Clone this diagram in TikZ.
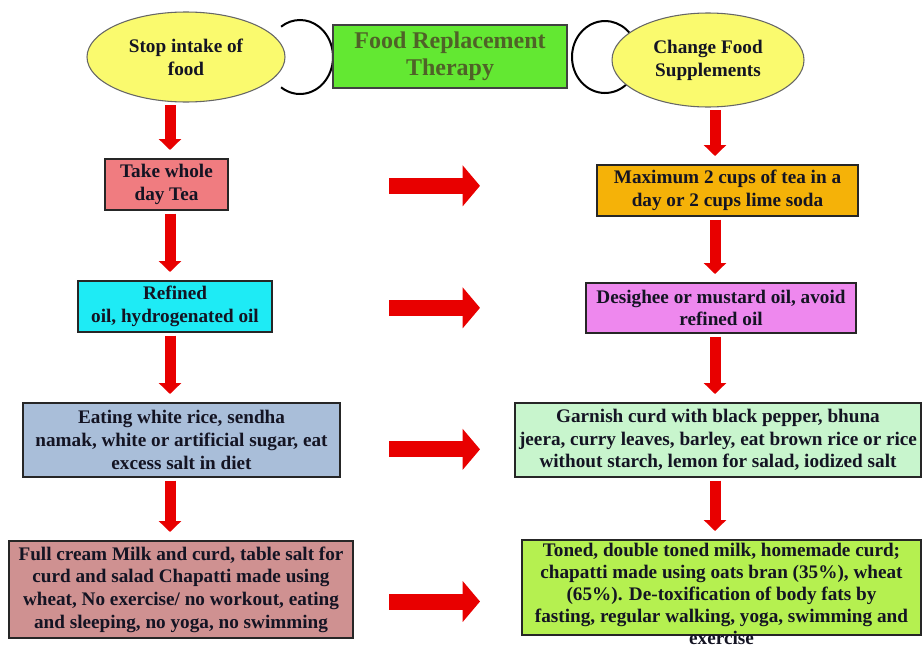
\documentclass[tikz,border=0pt]{standalone}
\usepackage{xcolor}
\usepackage{fontspec}
\setmainfont{Liberation Serif}
\usepackage{tikz}
\usetikzlibrary{shapes.geometric}
\usetikzlibrary{arrows.meta}

\definecolor{ovalfill}{RGB}{250,250,110}
\definecolor{titlefill}{RGB}{99,232,50}
\definecolor{titletext}{RGB}{79,98,40}
\definecolor{teafill}{RGB}{240,124,128}
\definecolor{oilfill}{RGB}{30,235,245}
\definecolor{ricefill}{RGB}{169,190,217}
\definecolor{milkfill}{RGB}{207,145,145}
\definecolor{limefill}{RGB}{245,178,8}
\definecolor{ghee}{RGB}{238,136,238}
\definecolor{curdfill}{RGB}{200,245,205}
\definecolor{tonedfill}{RGB}{181,240,80}
\definecolor{arrowred}{RGB}{232,0,0}
\definecolor{inktext}{RGB}{20,20,35}

\tikzset{
  oval/.style={ellipse, draw=black!60, line width=0.8pt, fill=ovalfill, inner sep=0pt, align=center,
    text=inktext, font=\bfseries\fontsize{14.4}{17.2}\selectfont},
  infobox/.style={rectangle, draw=black!85, line width=1.5pt, inner sep=0pt, align=center,
    text=inktext, font=\bfseries\fontsize{14.4}{17}\selectfont},
  ring/.style={draw=black, line width=1.5pt},
  varrow/.style={draw=arrowred, line width=8.25pt, -{Triangle[width=16.5pt,length=8.25pt]},
    shorten <=2pt, shorten >=6pt},
  harrow/.style={draw=arrowred, line width=12pt, -{Triangle[width=30pt,length=13pt]}}
}

\begin{document}
\begin{tikzpicture}[x=0.75pt,y=0.75pt,yscale=-1]
        \useasboundingbox (0,0) rectangle (923,646);

        %Shape: Arc
        \draw[ring] (300,57) ++(125:33 and 37) arc[start angle=125, end angle=-125, x radius=33, y radius=37];
        %Shape: Arc
        \draw[ring] (605,57) ++(40:33 and 36) arc[start angle=40, end angle=320, x radius=33, y radius=36];

        %Shape: Ellipse
        \node[oval, minimum width=148.5pt, minimum height=67.5pt] (stop) at (186,57) {Stop intake of\\food};
        %Shape: Ellipse
        \node[oval, minimum width=144pt, minimum height=70.5pt] (change) at (708,60) {Change Food\\Supplements};
        %Shape: Rectangle
        \node[infobox, fill=titlefill, draw=black!75, line width=1.2pt, minimum width=175.5pt, minimum height=47.25pt,
          text=titletext, font=\bfseries\fontsize{18}{20.5}\selectfont] (title) at (450,56.5) {Food Replacement\\Therapy};

        %Left column
        \node[infobox, fill=teafill, minimum width=92.25pt, minimum height=38.25pt] (tea) at (166.5,184.5) {Take whole\\day Tea};
        \node[infobox, fill=oilfill, minimum width=145.5pt, minimum height=38.25pt] (refined) at (175,306.5) {Refined\\oil, hydrogenated oil};
        \node[infobox, fill=ricefill, minimum width=237.75pt, minimum height=55.5pt] (rice) at (181.5,440) {Eating white rice, sendha\\namak, white or artificial sugar, eat\\excess salt in diet};
        \node[infobox, fill=milkfill, minimum width=258pt, minimum height=72.75pt] (milk) at (181,589.5) {Full cream Milk and curd, table salt for\\curd and salad Chapatti made using\\wheat, No exercise/ no workout, eating\\and sleeping, no yoga, no swimming};

        %Right column
        \node[infobox, fill=limefill, minimum width=195.75pt, minimum height=38.25pt] (maxtea) at (727.5,190.5) {Maximum 2 cups of tea in a\\day or 2 cups lime soda};
        \node[infobox, fill=ghee, minimum width=202.5pt, minimum height=37.5pt] (desighee) at (721,308) {Desighee or mustard oil, avoid\\refined oil};
        \node[infobox, fill=curdfill, minimum width=304.5pt, minimum height=55.5pt] (garnish) at (718,440) {Garnish curd with black pepper, bhuna\\jeera, curry leaves, barley, eat brown rice or rice\\without starch, lemon for salad, iodized salt};
        \node[infobox, fill=tonedfill, minimum width=299.25pt, minimum height=71.25pt] (toned) at (721.5,587.5) {};
        \node[infobox, draw=none, fill=none, font=\bfseries\fontsize{14.4}{16.6}\selectfont] (tonedtext) at (721.5,594) {Toned, double toned milk, homemade curd;\\chapatti made using oats bran (35\%), wheat\\(65\%). De-toxification of body fats by\\fasting, regular walking, yoga, swimming and\\exercise};

        %Straight Lines
        \coordinate (lcol) at (170,0);
        \coordinate (rcol) at (715,0);
        \draw[varrow] (stop.south -| lcol) -- (tea.north -| lcol);
        \draw[varrow] (tea.south -| lcol) -- (refined.north -| lcol);
        \draw[varrow] (refined.south -| lcol) -- (rice.north -| lcol);
        \draw[varrow] (rice.south -| lcol) -- (milk.north -| lcol);
        \draw[varrow] (change.south -| rcol) -- (maxtea.north -| rcol);
        \draw[varrow] (maxtea.south -| rcol) -- (desighee.north -| rcol);
        \draw[varrow] (desighee.south -| rcol) -- (garnish.north -| rcol);
        \draw[varrow] (garnish.south -| rcol) -- (toned.north -| rcol);

        %Straight Lines
        \coordinate (hl) at (389,0);
        \coordinate (hr) at (480,0);
        \draw[harrow] ([yshift=1pt]hl |- tea) -- ([yshift=1pt]hr |- tea);
        \draw[harrow] ([yshift=1pt]hl |- refined) -- ([yshift=1pt]hr |- refined);
        \draw[harrow] ([yshift=7pt]hl |- rice) -- ([yshift=7pt]hr |- rice);
        \draw[harrow] ([yshift=9pt]hl |- milk) -- ([yshift=9pt]hr |- milk);
\end{tikzpicture}
\end{document}
